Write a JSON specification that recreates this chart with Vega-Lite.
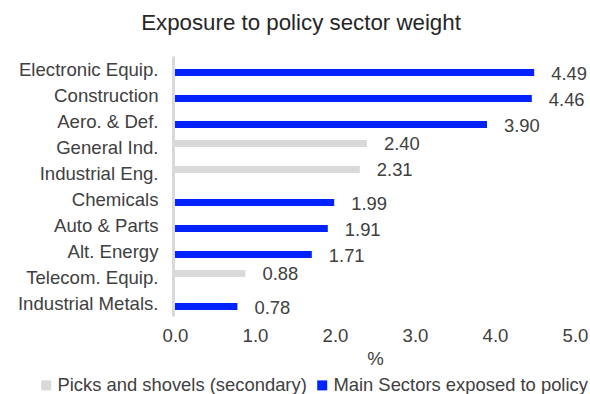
{
  "$schema": "https://vega.github.io/schema/vega-lite/v6.json",
  "autosize": "none",
  "width": 400,
  "height": 260,
  "padding": {"left": 175, "top": 56, "right": 15, "bottom": 78},
  "background": "white",
  "config": {
    "font": "Liberation Sans",
    "view": {"stroke": null},
    "axis": {"labelFont": "Liberation Sans", "titleFont": "Liberation Sans", "labelColor": "#404040", "titleColor": "#404040"},
    "legend": {"labelFont": "Liberation Sans"}
  },
  "title": {
    "text": "Exposure to policy sector weight",
    "fontSize": 22.3,
    "fontWeight": "normal",
    "color": "#262626",
    "anchor": "middle",
    "frame": "group",
    "dx": -74,
    "offset": 22
  },
  "data": {
    "values": [
      {"sector": "Electronic Equip.", "series": "Main Sectors exposed to policy", "value": 4.49},
      {"sector": "Construction", "series": "Main Sectors exposed to policy", "value": 4.46},
      {"sector": "Aero. & Def.", "series": "Main Sectors exposed to policy", "value": 3.90},
      {"sector": "General Ind.", "series": "Picks and shovels (secondary)", "value": 2.40},
      {"sector": "Industrial Eng.", "series": "Picks and shovels (secondary)", "value": 2.31},
      {"sector": "Chemicals", "series": "Main Sectors exposed to policy", "value": 1.99},
      {"sector": "Auto & Parts", "series": "Main Sectors exposed to policy", "value": 1.91},
      {"sector": "Alt. Energy", "series": "Main Sectors exposed to policy", "value": 1.71},
      {"sector": "Telecom. Equip.", "series": "Picks and shovels (secondary)", "value": 0.88},
      {"sector": "Industrial Metals.", "series": "Main Sectors exposed to policy", "value": 0.78}
    ]
  },
  "encoding": {
    "y": {
      "field": "sector",
      "type": "nominal",
      "sort": null,
      "scale": {"paddingInner": 0.46, "paddingOuter": 0.23},
      "axis": {
        "title": null,
        "ticks": false,
        "labelFontSize": 18.6,
        "labelPadding": 15,
        "labelOffset": 1,
        "domainColor": "#d9d9d9",
        "domainWidth": 3,
        "offset": 2,
        "labelLimit": 300
      }
    },
    "yOffset": {
      "field": "series",
      "type": "nominal",
      "sort": ["Picks and shovels (secondary)", "Main Sectors exposed to policy"],
      "scale": {"domain": ["Picks and shovels (secondary)", "Main Sectors exposed to policy"], "paddingInner": 0, "paddingOuter": 0}
    },
    "x": {
      "field": "value",
      "type": "quantitative",
      "scale": {"domain": [0, 5], "nice": false},
      "axis": {
        "title": "%",
        "titleFontSize": 18.6,
        "titleFontWeight": "normal",
        "titlePadding": 5,
        "labelFontSize": 18.6,
        "labelPadding": 10,
        "format": ".1f",
        "values": [0, 1, 2, 3, 4, 5],
        "domain": false,
        "ticks": false,
        "grid": false,
        "labelFlush": false
      }
    }
  },
  "layer": [
    {
      "mark": {"type": "bar"},
      "encoding": {
        "color": {
          "field": "series",
          "type": "nominal",
          "scale": {"domain": ["Picks and shovels (secondary)", "Main Sectors exposed to policy"], "range": ["#d9d9d9", "#0022ff"]},
          "legend": {
            "title": null,
            "orient": "none",
            "direction": "horizontal",
            "legendX": -138,
            "legendY": 320,
            "symbolType": "square",
            "symbolSize": 100,
            "symbolStrokeWidth": 0,
            "labelFontSize": 18.4,
            "labelColor": "#404040",
            "labelOffset": 2,
            "labelLimit": 400,
            "columnPadding": 6
          }
        }
      }
    },
    {
      "mark": {"type": "text", "align": "left", "baseline": "middle", "dx": 17, "dy": 1, "fontSize": 18.4, "color": "#404040"},
      "encoding": {
        "text": {"field": "value", "type": "quantitative", "format": ".2f"}
      }
    }
  ]
}
